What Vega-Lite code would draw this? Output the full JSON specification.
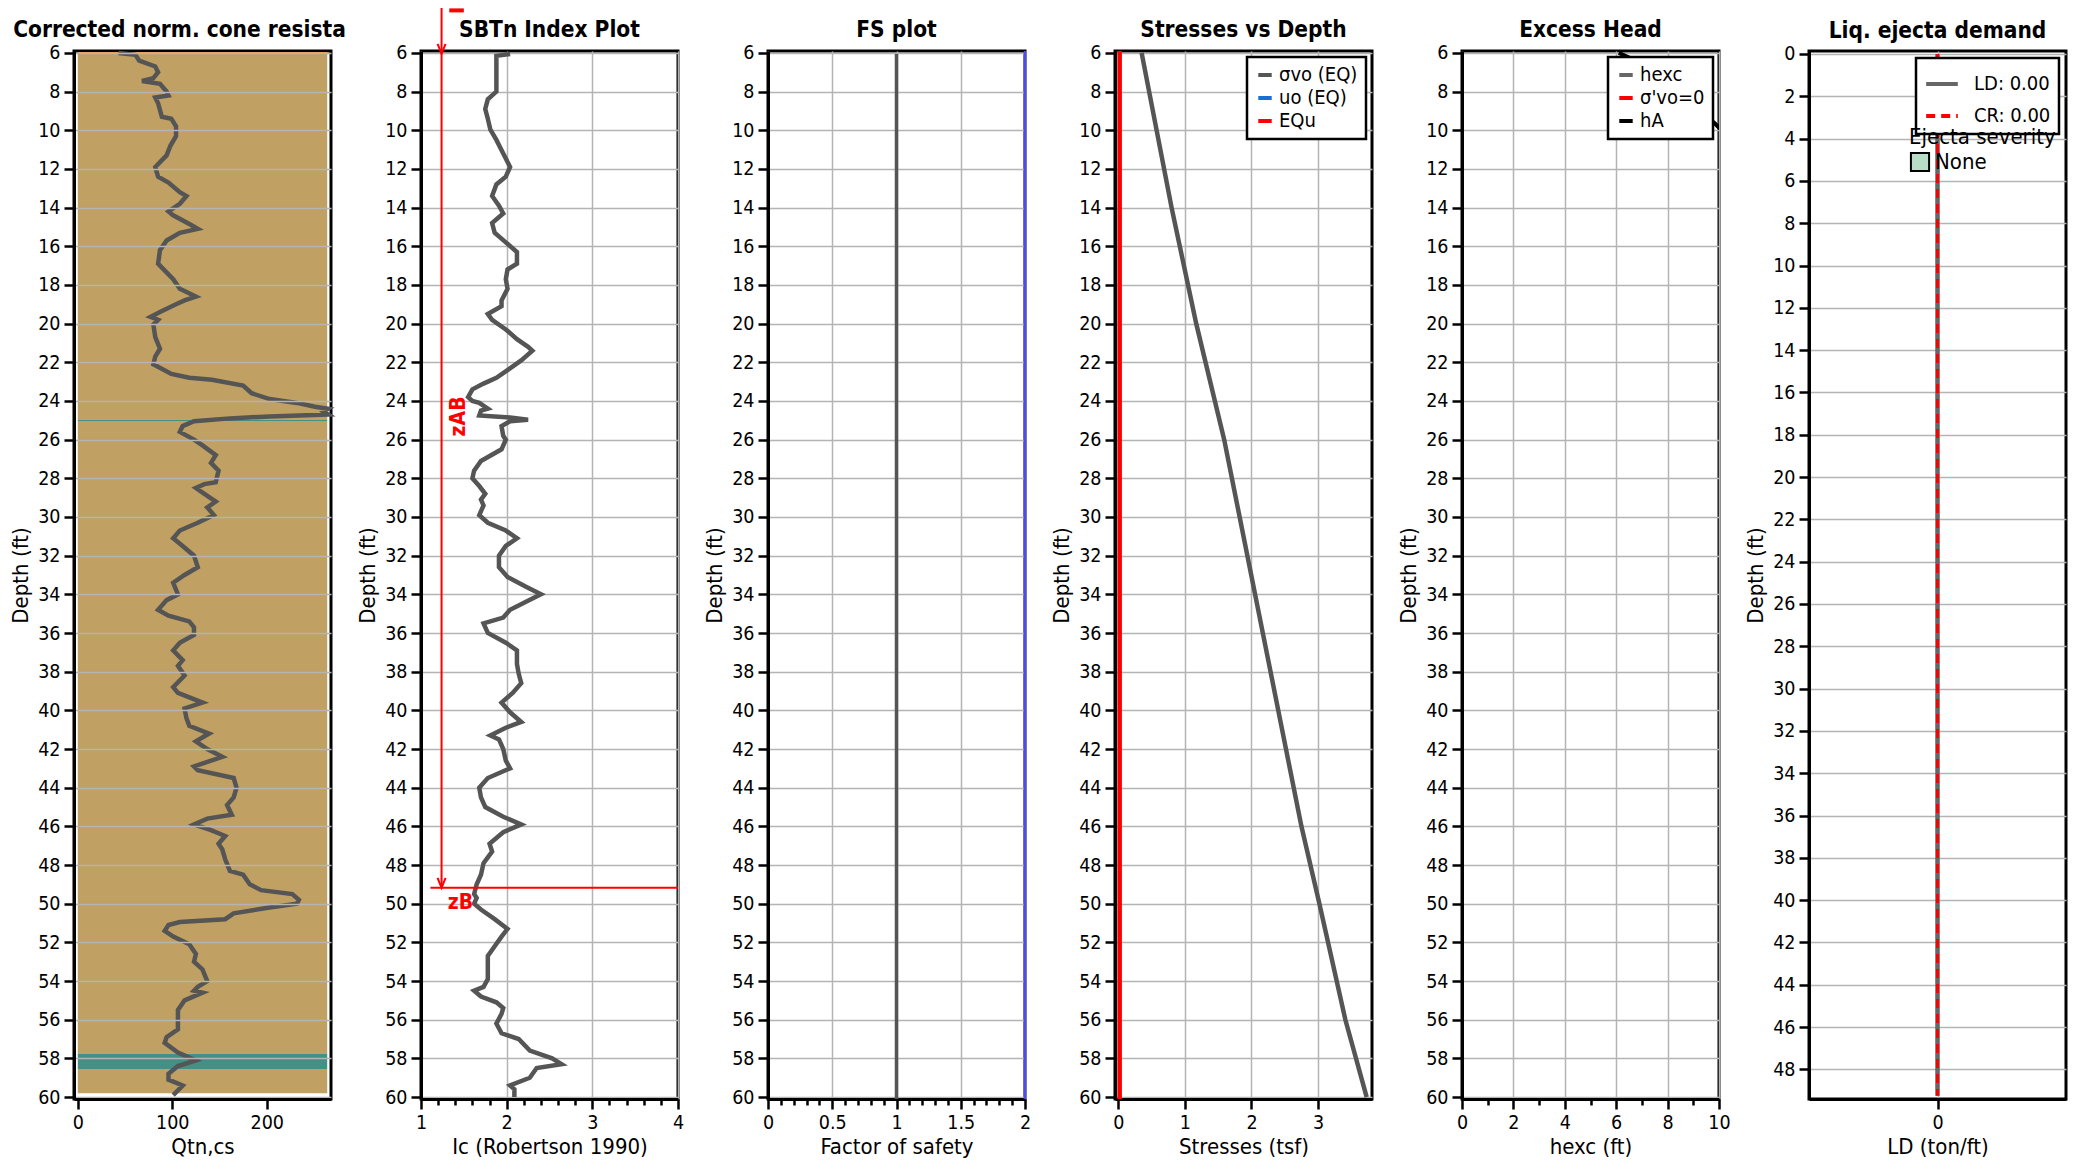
{
"$schema":"https://vega.github.io/schema/vega-lite/v6.json",
"autosize":{"type":"pad"},
"padding":{"left":8,"top":5,"right":4,"bottom":3},
"background":"white",
"spacing":90,
"bounds":"flush",
"resolve":{"scale":{"color":"independent","strokeDash":"independent","strokeWidth":"independent","fill":"independent"},"legend":{"color":"independent","fill":"independent","strokeDash":"independent","strokeWidth":"independent"}},
"datasets":{
"qtn":[{"d":6.0,"q":43},{"d":6.1,"q":61},{"d":6.4,"q":65},{"d":6.7,"q":82},{"d":7.0,"q":85},{"d":7.3,"q":80},{"d":7.45,"q":68},{"d":7.6,"q":87},{"d":8.0,"q":94},{"d":8.2,"q":96},{"d":8.3,"q":82},{"d":8.6,"q":85},{"d":9.3,"q":89},{"d":9.4,"q":99},{"d":9.8,"q":104},{"d":10.3,"q":104},{"d":10.8,"q":98},{"d":11.3,"q":94},{"d":11.9,"q":82},{"d":12.4,"q":85},{"d":12.7,"q":96},{"d":13.2,"q":108},{"d":13.4,"q":115},{"d":13.8,"q":108},{"d":14.2,"q":96},{"d":14.4,"q":101},{"d":14.9,"q":120},{"d":15.1,"q":127},{"d":15.3,"q":108},{"d":15.7,"q":94},{"d":16.2,"q":87},{"d":16.9,"q":85},{"d":17.1,"q":89},{"d":17.7,"q":101},{"d":18.2,"q":108},{"d":18.6,"q":125},{"d":18.8,"q":113},{"d":19.0,"q":104},{"d":19.4,"q":87},{"d":19.65,"q":77},{"d":19.8,"q":85},{"d":20.05,"q":80},{"d":20.7,"q":82},{"d":21.3,"q":87},{"d":21.7,"q":82},{"d":22.1,"q":80},{"d":22.6,"q":99},{"d":22.8,"q":118},{"d":22.9,"q":142},{"d":23.2,"q":175},{"d":23.6,"q":184},{"d":23.9,"q":203},{"d":24.1,"q":232},{"d":24.3,"q":251},{"d":24.4,"q":265},{"d":24.55,"q":260},{"d":24.7,"q":265},{"d":24.8,"q":203},{"d":24.9,"q":161},{"d":25.05,"q":123},{"d":25.3,"q":111},{"d":25.6,"q":108},{"d":26.0,"q":123},{"d":26.3,"q":132},{"d":26.8,"q":146},{"d":27.2,"q":141},{"d":27.6,"q":149},{"d":28.2,"q":146},{"d":28.3,"q":134},{"d":28.5,"q":125},{"d":28.8,"q":134},{"d":29.2,"q":146},{"d":29.5,"q":137},{"d":29.9,"q":144},{"d":30.3,"q":127},{"d":30.7,"q":108},{"d":31.1,"q":101},{"d":31.5,"q":111},{"d":32.0,"q":123},{"d":32.6,"q":127},{"d":33.0,"q":113},{"d":33.4,"q":101},{"d":34.0,"q":106},{"d":34.3,"q":94},{"d":34.8,"q":85},{"d":35.1,"q":96},{"d":35.4,"q":118},{"d":35.7,"q":123},{"d":36.1,"q":123},{"d":36.5,"q":108},{"d":36.9,"q":101},{"d":37.4,"q":111},{"d":37.7,"q":106},{"d":38.2,"q":113},{"d":38.8,"q":101},{"d":39.1,"q":106},{"d":39.6,"q":132},{"d":39.9,"q":113},{"d":40.4,"q":115},{"d":40.8,"q":118},{"d":41.2,"q":139},{"d":41.6,"q":125},{"d":42.0,"q":137},{"d":42.4,"q":153},{"d":42.9,"q":123},{"d":43.1,"q":127},{"d":43.5,"q":165},{"d":44.0,"q":168},{"d":44.5,"q":165},{"d":44.9,"q":158},{"d":45.4,"q":163},{"d":45.6,"q":137},{"d":45.9,"q":123},{"d":46.2,"q":141},{"d":46.5,"q":156},{"d":46.9,"q":149},{"d":47.2,"q":153},{"d":47.7,"q":156},{"d":48.3,"q":161},{"d":48.5,"q":175},{"d":49.0,"q":182},{"d":49.3,"q":194},{"d":49.5,"q":227},{"d":49.8,"q":234},{"d":50.0,"q":232},{"d":50.2,"q":203},{"d":50.5,"q":165},{"d":50.8,"q":156},{"d":50.95,"q":108},{"d":51.1,"q":96},{"d":51.4,"q":92},{"d":51.7,"q":101},{"d":52.1,"q":118},{"d":52.6,"q":125},{"d":53.0,"q":123},{"d":53.4,"q":132},{"d":54.0,"q":137},{"d":54.3,"q":127},{"d":54.5,"q":123},{"d":54.6,"q":132},{"d":55.0,"q":113},{"d":55.5,"q":106},{"d":56.0,"q":106},{"d":56.5,"q":106},{"d":56.9,"q":94},{"d":57.2,"q":92},{"d":57.7,"q":106},{"d":58.1,"q":125},{"d":58.4,"q":106},{"d":58.8,"q":96},{"d":59.1,"q":96},{"d":59.4,"q":111},{"d":59.9,"q":101}],
"ic":[{"d":6.05,"x":2.04},{"d":6.15,"x":1.88},{"d":7.0,"x":1.88},{"d":7.7,"x":1.88},{"d":8.0,"x":1.88},{"d":8.4,"x":1.78},{"d":8.9,"x":1.75},{"d":9.4,"x":1.78},{"d":9.97,"x":1.81},{"d":10.5,"x":1.88},{"d":11.2,"x":1.96},{"d":11.9,"x":2.04},{"d":12.4,"x":1.99},{"d":12.8,"x":1.88},{"d":13.4,"x":1.83},{"d":13.9,"x":1.91},{"d":14.3,"x":1.96},{"d":14.8,"x":1.83},{"d":15.3,"x":1.86},{"d":15.8,"x":1.99},{"d":16.3,"x":2.12},{"d":16.9,"x":2.12},{"d":17.2,"x":2.01},{"d":17.7,"x":1.99},{"d":18.2,"x":2.01},{"d":18.8,"x":1.94},{"d":19.1,"x":1.94},{"d":19.5,"x":1.78},{"d":19.8,"x":1.83},{"d":20.3,"x":1.99},{"d":20.8,"x":2.12},{"d":21.2,"x":2.25},{"d":21.4,"x":2.30},{"d":21.9,"x":2.17},{"d":22.4,"x":2.01},{"d":22.8,"x":1.88},{"d":23.1,"x":1.73},{"d":23.4,"x":1.60},{"d":23.8,"x":1.55},{"d":24.0,"x":1.60},{"d":24.1,"x":1.68},{"d":24.4,"x":1.78},{"d":24.5,"x":1.70},{"d":24.75,"x":1.68},{"d":24.85,"x":2.04},{"d":24.97,"x":2.25},{"d":25.05,"x":2.04},{"d":25.3,"x":1.94},{"d":25.8,"x":1.96},{"d":26.0,"x":1.99},{"d":26.5,"x":1.94},{"d":27.1,"x":1.70},{"d":27.6,"x":1.62},{"d":28.0,"x":1.60},{"d":28.4,"x":1.68},{"d":28.8,"x":1.75},{"d":29.1,"x":1.70},{"d":29.4,"x":1.73},{"d":29.9,"x":1.68},{"d":30.3,"x":1.78},{"d":30.7,"x":1.99},{"d":31.1,"x":2.12},{"d":31.5,"x":1.99},{"d":32.0,"x":1.91},{"d":32.6,"x":1.91},{"d":33.1,"x":2.01},{"d":33.6,"x":2.22},{"d":34.0,"x":2.40},{"d":34.4,"x":2.22},{"d":34.8,"x":2.04},{"d":35.2,"x":1.96},{"d":35.5,"x":1.73},{"d":36.0,"x":1.78},{"d":36.5,"x":1.99},{"d":36.9,"x":2.12},{"d":37.6,"x":2.12},{"d":38.1,"x":2.14},{"d":38.6,"x":2.17},{"d":39.1,"x":2.07},{"d":39.6,"x":1.94},{"d":40.1,"x":2.04},{"d":40.6,"x":2.17},{"d":40.9,"x":1.99},{"d":41.3,"x":1.81},{"d":41.5,"x":1.91},{"d":42.0,"x":1.96},{"d":42.6,"x":1.99},{"d":43.0,"x":2.04},{"d":43.5,"x":1.78},{"d":44.0,"x":1.68},{"d":44.5,"x":1.70},{"d":45.0,"x":1.75},{"d":45.5,"x":1.96},{"d":45.9,"x":2.17},{"d":46.3,"x":1.96},{"d":46.9,"x":1.80},{"d":47.3,"x":1.83},{"d":47.9,"x":1.73},{"d":48.5,"x":1.70},{"d":49.0,"x":1.65},{"d":49.5,"x":1.62},{"d":49.7,"x":1.65},{"d":50.0,"x":1.62},{"d":50.3,"x":1.70},{"d":50.8,"x":1.86},{"d":51.3,"x":2.01},{"d":51.7,"x":1.94},{"d":52.2,"x":1.86},{"d":52.7,"x":1.78},{"d":53.2,"x":1.78},{"d":53.9,"x":1.78},{"d":54.3,"x":1.73},{"d":54.5,"x":1.62},{"d":54.8,"x":1.70},{"d":55.1,"x":1.88},{"d":55.4,"x":1.96},{"d":55.7,"x":1.94},{"d":56.2,"x":1.88},{"d":56.7,"x":1.94},{"d":57.0,"x":2.14},{"d":57.6,"x":2.27},{"d":58.0,"x":2.53},{"d":58.3,"x":2.64},{"d":58.5,"x":2.35},{"d":59.0,"x":2.27},{"d":59.4,"x":2.04},{"d":59.6,"x":2.09},{"d":60.0,"x":2.09}],
"stress":[{"s":"σvo (EQ)","v":0.35,"d":6},{"s":"σvo (EQ)","v":0.80,"d":14},{"s":"σvo (EQ)","v":1.17,"d":20},{"s":"σvo (EQ)","v":1.59,"d":26},{"s":"σvo (EQ)","v":2.75,"d":46},{"s":"σvo (EQ)","v":3.02,"d":50},{"s":"σvo (EQ)","v":3.41,"d":56},{"s":"σvo (EQ)","v":3.73,"d":60},{"s":"EQu","v":0.02,"d":5.9},{"s":"EQu","v":0.02,"d":60.1}],
"ha":[{"s":"hA","h":6.1,"d":6.0},{"s":"hA","h":6.6,"d":6.3},{"s":"hA","h":9.8,"d":9.6},{"s":"hA","h":10.1,"d":10.0}],
"ld":[{"s":"LD: 0.00","v":0,"d":0},{"s":"LD: 0.00","v":0,"d":49.25}],
"cr":[{"s":"CR: 0.00","v":0,"d":0},{"s":"CR: 0.00","v":0,"d":49.25}]
},
"hconcat":[
{
"width":257,"height":1048,
"title":{"text":"Corrected norm. cone resista","dx":-23},
"layer":[
{"data":{"values":[{"top":6.0,"bot":24.96,"soil":"sand"},{"top":25.04,"bot":57.75,"soil":"sand"},{"top":57.75,"bot":58.55,"soil":"silt"},{"top":58.55,"bot":59.8,"soil":"sand"},{"top":24.96,"bot":25.04,"soil":"silt"}]},
"mark":{"type":"rect"},
"encoding":{
"x":{"datum":0,"type":"quantitative","scale":{"domain":[-4,268],"nice":false,"zero":false},"axis":{"title":"Qtn,cs","values":[0,100,200],"zindex":1,"labelOverlap":false}},
"x2":{"datum":264},
"y":{"field":"top","type":"quantitative","scale":{"domain":[5.9,60.1],"reverse":true,"nice":false,"zero":false},"axis":{"title":"Depth (ft)","values":[6,8,10,12,14,16,18,20,22,24,26,28,30,32,34,36,38,40,42,44,46,48,50,52,54,56,58,60],"zindex":1,"labelOverlap":false}},
"y2":{"field":"bot"},
"color":{"field":"soil","type":"nominal","scale":{"domain":["sand","silt"],"range":["#C1A163","#449084"]},"legend":null}}},
{"data":{"values":[{"d":6.0}]},"mark":{"type":"rule","color":"#F2A04A","strokeWidth":2},
"encoding":{
"x":{"datum":0,"type":"quantitative","scale":{"domain":[-4,268],"nice":false,"zero":false},"axis":{"title":"Qtn,cs","values":[0,100,200],"zindex":1,"labelOverlap":false}},
"x2":{"datum":264},
"y":{"field":"d","type":"quantitative","scale":{"domain":[5.9,60.1],"reverse":true,"nice":false,"zero":false},"axis":{"title":"Depth (ft)","values":[6,8,10,12,14,16,18,20,22,24,26,28,30,32,34,36,38,40,42,44,46,48,50,52,54,56,58,60],"zindex":1,"labelOverlap":false}}}},
{"data":{"name":"qtn"},"mark":{"type":"line","color":"#555555","strokeWidth":4.5},
"encoding":{
"x":{"field":"q","type":"quantitative","scale":{"domain":[-4,268],"nice":false,"zero":false},"axis":{"title":"Qtn,cs","values":[0,100,200],"zindex":1,"labelOverlap":false}},
"y":{"field":"d","type":"quantitative","scale":{"domain":[5.9,60.1],"reverse":true,"nice":false,"zero":false},"axis":{"title":"Depth (ft)","values":[6,8,10,12,14,16,18,20,22,24,26,28,30,32,34,36,38,40,42,44,46,48,50,52,54,56,58,60],"zindex":1,"labelOverlap":false}},
"order":{"field":"d","type":"quantitative"}}}
]
},
{
"width":257,"height":1048,
"title":{"text":"SBTn Index Plot","offset":-34},
"encoding":{
"x":{"field":"x","type":"quantitative","scale":{"domain":[1,4],"nice":false,"zero":false},"axis":{"title":"Ic (Robertson 1990)","labelOverlap":false,"values":[1,1.2,1.4,1.6,1.8,2,2.2,2.4,2.6,2.8,3,3.2,3.4,3.6,3.8,4],"labelExpr":"datum.value % 1 === 0 ? format(datum.value, '~g') : ''","tickSize":{"condition":{"test":"datum.value % 1 === 0","value":10},"value":6},"gridOpacity":{"condition":{"test":"datum.value % 1 === 0","value":1},"value":0}}},
"y":{"field":"d","type":"quantitative","scale":{"domain":[5.9,60.1],"reverse":true,"nice":false,"zero":false},"axis":{"title":"Depth (ft)","labelOverlap":false,"values":[6,8,10,12,14,16,18,20,22,24,26,28,30,32,34,36,38,40,42,44,46,48,50,52,54,56,58,60]}}
},
"layer":[
{"data":{"name":"ic"},"mark":{"type":"line","color":"#555555","strokeWidth":4.5},"encoding":{"order":{"field":"d","type":"quantitative"}}},
{"data":{"values":[{"x":1.24,"d":3.68,"d2":49.18}]},"mark":{"type":"rule","color":"#FF0000","strokeWidth":2},"encoding":{"y2":{"field":"d2"}}},
{"data":{"values":[{"d":49.18,"x":1.11,"x2":4}]},"mark":{"type":"rule","color":"#FF0000","strokeWidth":2},"encoding":{"x2":{"field":"x2"}}},
{"data":{"values":[{"d":3.8,"x":1.33,"x2":1.5}]},"mark":{"type":"rule","color":"#FF0000","strokeWidth":4},"encoding":{"x2":{"field":"x2"}}},
{"data":{"values":[{"x":1.24,"d":6.05},{"x":1.24,"d":49.18}]},"mark":{"type":"point","shape":"M-1,-2.5L0,0L1,-2.5","filled":false,"stroke":"#FF0000","strokeWidth":2,"size":64,"opacity":1}},
{"data":{"values":[{"x":1.445,"d":24.8,"t":"zAB"},{"x":1.46,"d":49.95,"t":"zB"}]},"mark":{"type":"text","color":"#FF0000","fontWeight":"bold","fontSize":21,"align":"center","baseline":"middle"},"encoding":{"text":{"field":"t"},"angle":{"condition":{"test":"datum.t === 'zAB'","value":270},"value":0}}}
]
},
{
"width":257,"height":1048,
"title":"FS plot",
"encoding":{
"x":{"field":"fs","type":"quantitative","scale":{"domain":[0,2],"nice":false,"zero":false},"axis":{"title":"Factor of safety","labelOverlap":false,"values":[0,0.1,0.2,0.3,0.4,0.5,0.6,0.7,0.8,0.9,1,1.1,1.2,1.3,1.4,1.5,1.6,1.7,1.8,1.9,2],"labelExpr":"(datum.value*2) % 1 === 0 ? format(datum.value, '~g') : ''","tickSize":{"condition":{"test":"(datum.value*2) % 1 === 0","value":10},"value":6},"gridOpacity":{"condition":{"test":"(datum.value*2) % 1 === 0","value":1},"value":0}}},
"y":{"field":"d","type":"quantitative","scale":{"domain":[5.9,60.1],"reverse":true,"nice":false,"zero":false},"axis":{"title":"Depth (ft)","labelOverlap":false,"values":[6,8,10,12,14,16,18,20,22,24,26,28,30,32,34,36,38,40,42,44,46,48,50,52,54,56,58,60]}}
},
"layer":[
{"data":{"values":[{"fs":1,"d":6.05},{"fs":1,"d":60.1}]},"mark":{"type":"line","color":"#555555","strokeWidth":3.5}},
{"data":{"values":[{"fs":2,"d":5.9},{"fs":2,"d":60.1}]},"mark":{"type":"line","color":"#4B4BF0","strokeWidth":2.5}}
]
},
{
"width":257,"height":1048,
"title":"Stresses vs Depth",
"data":{"name":"stress"},
"mark":{"type":"line","strokeWidth":4.5},
"encoding":{
"x":{"field":"v","type":"quantitative","scale":{"domain":[-0.05,3.81],"nice":false,"zero":false},"axis":{"title":"Stresses (tsf)","labelOverlap":false,"values":[0,1,2,3]}},
"y":{"field":"d","type":"quantitative","scale":{"domain":[5.9,60.1],"reverse":true,"nice":false,"zero":false},"axis":{"title":"Depth (ft)","labelOverlap":false,"values":[6,8,10,12,14,16,18,20,22,24,26,28,30,32,34,36,38,40,42,44,46,48,50,52,54,56,58,60]}},
"color":{"field":"s","type":"nominal","scale":{"domain":["σvo (EQ)","uo (EQ)","EQu"],"range":["#555555","#1A6FD6","#FF0000"]},"legend":{"title":null,"orient":"top-right","offset":6,"fillColor":"white","strokeColor":"black","padding":8,"labelFontSize":20,"symbolType":"stroke","symbolStrokeWidth":4,"symbolSize":180,"rowPadding":3,"encode":{"legend":{"update":{"strokeWidth":{"value":2.5}}}}}},
"order":{"field":"d","type":"quantitative"}}
},
{
"width":257,"height":1048,
"title":"Excess Head",
"data":{"name":"ha"},
"mark":{"type":"line","clip":true},
"encoding":{
"x":{"field":"h","type":"quantitative","scale":{"domain":[0,10],"nice":false,"zero":false},"axis":{"title":"hexc (ft)","labelOverlap":false,"values":[0,1,2,3,4,5,6,7,8,9,10],"labelExpr":"datum.value % 2 === 0 ? datum.label : ''","tickSize":{"condition":{"test":"datum.value % 2 === 0","value":10},"value":6},"gridOpacity":{"condition":{"test":"datum.value % 2 === 0","value":1},"value":0}}},
"y":{"field":"d","type":"quantitative","scale":{"domain":[5.9,60.1],"reverse":true,"nice":false,"zero":false},"axis":{"title":"Depth (ft)","labelOverlap":false,"values":[6,8,10,12,14,16,18,20,22,24,26,28,30,32,34,36,38,40,42,44,46,48,50,52,54,56,58,60]}},
"color":{"field":"s","type":"nominal","scale":{"domain":["hexc","σ'vo=0","hA"],"range":["#666666","#FF0000","#000000"]},"legend":{"title":null,"orient":"top-right","offset":6,"fillColor":"white","strokeColor":"black","padding":8,"labelFontSize":20,"symbolType":"stroke","symbolSize":180,"rowPadding":3,"encode":{"legend":{"update":{"strokeWidth":{"value":2.5}}}}}},
"strokeWidth":{"field":"s","type":"nominal","scale":{"domain":["hexc","σ'vo=0","hA"],"range":[4,4,1.5]},"legend":{"title":null,"orient":"top-right","offset":6,"fillColor":"white","strokeColor":"black","padding":8,"labelFontSize":20,"symbolType":"stroke","symbolSize":180,"rowPadding":3,"encode":{"legend":{"update":{"strokeWidth":{"value":2.5}}}}}},
"order":{"field":"d","type":"quantitative"}}
},
{
"width":257,"height":1048,
"title":"Liq. ejecta demand",
"encoding":{
"x":{"field":"v","type":"quantitative","scale":{"domain":[-1,1],"nice":false,"zero":false},"axis":{"title":"LD (ton/ft)","labelOverlap":false,"values":[0]}},
"y":{"field":"d","type":"quantitative","scale":{"domain":[-0.14,49.4],"reverse":true,"nice":false,"zero":false},"axis":{"title":"Depth (ft)","labelOverlap":false,"values":[0,2,4,6,8,10,12,14,16,18,20,22,24,26,28,30,32,34,36,38,40,42,44,46,48]}}
},
"layer":[
{"data":{"name":"ld"},"mark":{"type":"line","strokeWidth":4.5},
"encoding":{
"color":{"field":"s","type":"nominal","scale":{"domain":["LD: 0.00","CR: 0.00"],"range":["#666666","#FF0000"]},"legend":{"title":null,"orient":"top-right","offset":7,"fillColor":"white","strokeColor":"black","padding":8,"labelFontSize":20,"symbolType":"stroke","symbolStrokeWidth":4,"symbolSize":1000,"rowPadding":4,"labelOffset":14,"encode":{"legend":{"update":{"strokeWidth":{"value":2.5}}}}}},
"strokeDash":{"field":"s","type":"nominal","scale":{"domain":["LD: 0.00","CR: 0.00"],"range":[[1,0],[9,6]]},"legend":{"title":null,"orient":"top-right","offset":7,"fillColor":"white","strokeColor":"black","padding":8,"labelFontSize":20,"symbolType":"stroke","symbolStrokeWidth":4,"symbolSize":1000,"rowPadding":4,"labelOffset":14,"encode":{"legend":{"update":{"strokeWidth":{"value":2.5}}}}}},
"order":{"field":"d","type":"quantitative"}}},
{"data":{"name":"cr"},"mark":{"type":"line","strokeWidth":3},
"encoding":{
"color":{"field":"s","type":"nominal"},
"strokeDash":{"field":"s","type":"nominal"},
"order":{"field":"d","type":"quantitative"}}},
{"data":{"values":[{"sev":"None","v":0,"d":0}]},"mark":{"type":"rect"},
"encoding":{
"x2":{"field":"v"},
"y2":{"field":"d"},
"fill":{"field":"sev","type":"nominal","scale":{"domain":["None"],"range":["#B8DCC6"]},"legend":{"title":"Ejecta severity","orient":"none","legendX":100,"legendY":76,"titleFontSize":22,"titleFontWeight":"normal","titleColor":"black","labelFontSize":22,"symbolType":"square","symbolSize":330,"symbolStrokeColor":"black","symbolStrokeWidth":2,"titlePadding":2}}}}
]
}
],
"config":{
"font":"DejaVu Sans Condensed, Liberation Sans Narrow, DejaVu Sans, sans-serif",
"view":{"stroke":"#000000","strokeWidth":3},
"axis":{"domainColor":"#000000","domainWidth":3,"tickColor":"#000000","tickWidth":2.5,"tickSize":10,"labelFont":"DejaVu Sans Condensed, Liberation Sans Narrow, DejaVu Sans, sans-serif","labelFontSize":19.5,"labelColor":"#000000","labelPadding":4,"titleFont":"DejaVu Sans Condensed, Liberation Sans Narrow, DejaVu Sans, sans-serif","titleFontSize":22,"titleFontWeight":"normal","titleColor":"#000000","gridColor":"#B4B4B4","gridWidth":1.5,"labelFlush":false,"labelOverlap":false,"titlePadding":5},
"legend":{"labelFont":"DejaVu Sans Condensed, Liberation Sans Narrow, DejaVu Sans, sans-serif","titleFont":"DejaVu Sans Condensed, Liberation Sans Narrow, DejaVu Sans, sans-serif","labelColor":"#000000"},
"title":{"font":"DejaVu Sans Condensed, Liberation Sans Narrow, DejaVu Sans, sans-serif","fontSize":22.5,"fontWeight":"bold","color":"#000000","offset":1}
}
}
